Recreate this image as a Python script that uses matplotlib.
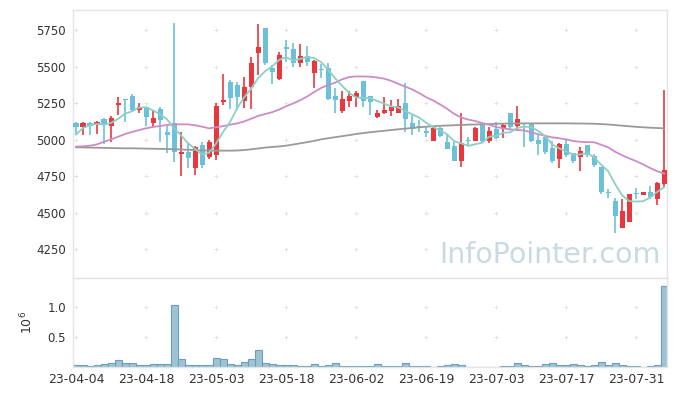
import matplotlib
matplotlib.use('Agg')
import matplotlib.pyplot as plt
import numpy as np
import pandas as pd

# ---------------- data ----------------
tick_labels = ['23-04-04', '23-04-18', '23-05-03', '23-05-18', '23-06-02',
               '23-06-19', '23-07-03', '23-07-17', '23-07-31']

opens = [5112, 5089, 5112, 5101, 5140, 5096, 5238, 5278, 5299, 5203,
         5222, 5116, 5210, 5051, 5112, 4904, 4918, 4808, 4964, 4883,
         4895, 5260, 5397, 5375, 5267, 5359, 5592, 5763, 5493, 5416,
         5637, 5619, 5527, 5573, 5459, 5485, 5489, 5299, 5199, 5267,
         5295, 5402, 5299, 5157, 5181, 5199, 5181, 5249, 5112, 5094,
         5055, 4993, 5078, 4986, 4957, 4856, 4995, 4993, 5107, 4991,
         5073, 5073, 5181, 5094, 5117, 5112, 4998, 5020, 4941, 4868,
         4970, 4911, 4884, 4964, 4888, 4815, 4640, 4582, 4397, 4438,
         4635, 4623, 4644, 4596, 4696]
highs = [5123, 5123, 5123, 5128, 5147, 5160, 5295, 5281, 5311, 5249,
         5226, 5197, 5222, 5094, 5797, 5055, 4986, 4959, 4986, 4998,
         5249, 5450, 5409, 5397, 5427, 5568, 5792, 5767, 5512, 5603,
         5683, 5660, 5655, 5642, 5545, 5519, 5523, 5352, 5336, 5336,
         5336, 5402, 5300, 5203, 5294, 5272, 5279, 5390, 5169, 5135,
         5094, 5085, 5089, 5030, 4986, 5181, 5016, 5085, 5123, 5089,
         5119, 5117, 5181, 5231, 5117, 5112, 5032, 5032, 4993, 4979,
         5003, 4911, 4952, 4964, 4902, 4815, 4660, 4598, 4592, 4630,
         4667, 4644, 4681, 4712, 5340]
lows = [5032, 5032, 5032, 5039, 4970, 4982, 5170, 5123, 5196, 5181,
        5094, 5089, 4986, 4911, 4849, 4751, 4804, 4758, 4804, 4866,
        4861, 5240, 5208, 5200, 5215, 5208, 5443, 5512, 5379, 5409,
        5534, 5500, 5500, 5505, 5352, 5420, 5272, 5181, 5181, 5226,
        5222, 5226, 5169, 5146, 5174, 5163, 5181, 5050, 5032, 5055,
        5016, 4993, 5020, 4936, 4856, 4811, 4964, 4993, 4975, 4980,
        5005, 5015, 5066, 5060, 4952, 4986, 4895, 4902, 4843, 4808,
        4883, 4838, 4788, 4883, 4815, 4630, 4598, 4359, 4397, 4438,
        4594, 4620, 4594, 4553, 4678]
closes = [5089, 5112, 5094, 5121, 5099, 5149, 5250, 5272, 5203, 5227,
          5157, 5146, 5135, 5032, 4918, 4918, 4873, 4952, 4827, 4982,
          5231, 5275, 5288, 5295, 5359, 5527, 5637, 5523, 5462, 5583,
          5619, 5527, 5573, 5534, 5539, 5480, 5277, 5272, 5277, 5299,
          5318, 5267, 5260, 5185, 5203, 5226, 5231, 5140, 5071, 5089,
          5050, 5082, 5025, 4936, 4856, 4979, 4990, 5082, 4990, 5060,
          5009, 5101, 5089, 5142, 5107, 4993, 4970, 4913, 4856, 4970,
          4895, 4854, 4922, 4895, 4827, 4644, 4633, 4477, 4514, 4628,
          4630, 4644, 4605, 4705, 4792]
volumes = [33000, 33000, 17000, 33000, 50000, 67000, 117000, 67000, 67000, 33000,
           33000, 50000, 50000, 50000, 1033000, 133000, 33000, 33000, 33000, 33000,
           150000, 133000, 50000, 33000, 83000, 133000, 283000, 67000, 50000, 33000,
           33000, 33000, 17000, 17000, 50000, 17000, 33000, 67000, 17000, 17000,
           17000, 17000, 17000, 50000, 17000, 17000, 17000, 67000, 17000, 17000,
           17000, 8000, 17000, 33000, 50000, 33000, 4000, 4000, 4000, 4000,
           4000, 17000, 17000, 67000, 33000, 17000, 17000, 50000, 67000, 33000,
           33000, 50000, 33000, 17000, 33000, 83000, 33000, 67000, 33000, 17000,
           17000, 5000, 17000, 33000, 1356000]

# moving-average values before enough history is visible
ma5_head = [5035, 5080, 5100, 5108]
ma20_head = [4952, 4955, 4959, 4968, 4986, 5002, 5020, 5039, 5053, 5066,
             5078, 5087, 5094, 5101, 5105, 5105, 5105, 5099, 5089]
ma_long = [4948, 4947, 4946, 4945, 4944, 4943, 4942, 4941, 4941, 4940,
           4939, 4938, 4937, 4936, 4935, 4933, 4931, 4929, 4927, 4926,
           4925, 4925, 4925, 4926, 4929, 4934, 4940, 4946, 4950, 4954,
           4959, 4967, 4975, 4983, 4992, 5002, 5010, 5017, 5024, 5031,
           5039, 5045, 5051, 5056, 5061, 5066, 5071, 5076, 5080, 5085,
           5089, 5092, 5095, 5097, 5099, 5101, 5103, 5104, 5106, 5107,
           5109, 5110, 5111, 5111, 5112, 5112, 5112, 5112, 5112, 5112,
           5112, 5111, 5111, 5110, 5109, 5107, 5104, 5100, 5096, 5092,
           5088, 5085, 5082, 5080, 5078]

# ---------------- derived ----------------
o = np.array(opens, float)
h = np.array(highs, float)
l = np.array(lows, float)
c = np.array(closes, float)
v = np.array(volumes, float) / 1e6
x = np.arange(len(c))
tick_pos = np.arange(0, len(c), 10)[:len(tick_labels)]

ma5 = pd.Series(c).rolling(5).mean().to_numpy()
ma5[:len(ma5_head)] = ma5_head
ma20 = pd.Series(c).rolling(20).mean().to_numpy()
ma20[:len(ma20_head)] = ma20_head

RED = '#e8383e'
BLUE = '#6bc1d9'
cols = [RED if cc >= oo else BLUE for oo, cc in zip(o, c)]

# ---------------- figure ----------------
W, H = 677, 396
fig = plt.figure(figsize=(W / 100, H / 100), dpi=100)
ax = fig.add_axes([73 / W, 118 / H, 594 / W, 268 / H])
ax2 = fig.add_axes([73 / W, 29 / H, 594 / W, 89 / H], sharex=ax)

xlim = (-0.43, 84.4)
ylim = (4053, 5888)
yticks = [4250, 4500, 4750, 5000, 5250, 5500, 5750]

# grid "+" markers
gx, gy = np.meshgrid(tick_pos, yticks)
ax.scatter(gx.ravel(), gy.ravel(), marker='+', s=12, c='#e2e2e2', lw=0.7, zorder=0)

# candles
ax.vlines(x, l, h, colors=cols, lw=1.2, zorder=2)
body_h = np.maximum(np.abs(c - o), 8)
body_b = np.minimum(o, c) - np.where(np.abs(c - o) < 8, (8 - np.abs(c - o)) / 2, 0)
ax.bar(x, body_h, bottom=body_b, width=0.72, color=cols, lw=0, zorder=3)

# moving averages
ax.plot(x, ma_long, color='#9a9a9a', lw=1.3, zorder=4)
ax.plot(x, ma20, color='#cc8cc8', lw=1.3, zorder=4)
ax.plot(x, ma5, color='#8ecfc3', lw=1.3, zorder=5)

ax.text(0.803, 0.085, 'InfoPointer.com', transform=ax.transAxes,
        ha='center', va='center', fontsize=20.5, color='#c8dae4', zorder=1)

ax.set_xlim(*xlim)
ax.set_ylim(*ylim)
ax.set_yticks(yticks)
ax.set_yticklabels([str(t) for t in yticks])
ax.tick_params(axis='y', length=0, pad=5, labelsize=8.5, labelcolor='#333333')
ax.tick_params(axis='x', length=0, labelbottom=False)
for s in ax.spines.values():
    s.set_color('#e4e4e4')
    s.set_linewidth(1)

# volume
vticks = [0.5, 1.0]
gx2, gy2 = np.meshgrid(tick_pos, vticks)
ax2.scatter(gx2.ravel(), gy2.ravel(), marker='+', s=12, c='#e2e2e2', lw=0.7, zorder=0)
ax2.bar(x, v, width=1.0, color='#9dc3d5', edgecolor='#6b9fbb', lw=0.8, zorder=2)
ax2.set_ylim(0, 1.483)
ax2.set_yticks(vticks)
ax2.set_yticklabels(['0.5', '1.0'])
ax2.set_xticks(tick_pos)
ax2.set_xticklabels(tick_labels)
ax2.tick_params(axis='both', length=0, labelsize=8.5, labelcolor='#333333')
ax2.tick_params(axis='y', pad=5)
ax2.tick_params(axis='x', pad=4, labelsize=9)
ax2.set_ylabel(r'$10^{6}$', fontsize=9, color='#333333', labelpad=9)
for s in ax2.spines.values():
    s.set_color('#e4e4e4')
    s.set_linewidth(1)
ax2.set_xlim(*xlim)

fig.savefig('out.png', dpi=100, facecolor='white')
